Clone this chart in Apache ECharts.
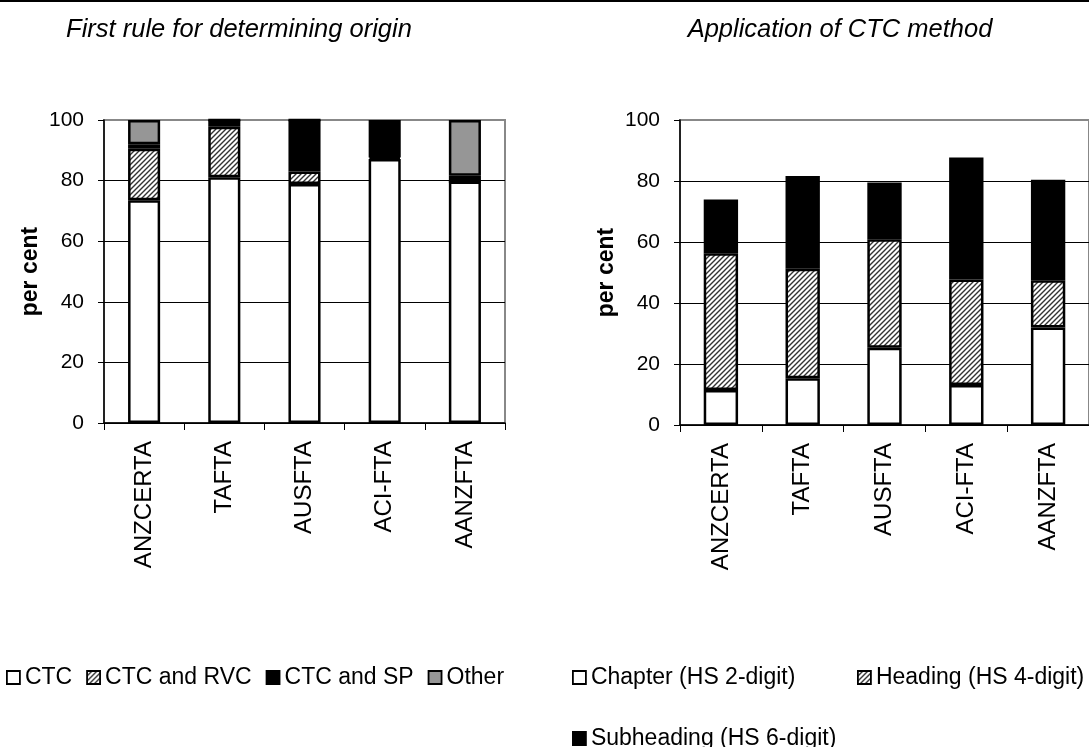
<!DOCTYPE html>
<html><head><meta charset="utf-8">
<script src="https://cdn.jsdelivr.net/npm/echarts@6/dist/echarts.min.js"></script>
<style>html,body{margin:0;padding:0;background:#fff}#c{width:1089px;height:747px}</style>
</head><body><div id="c"></div>
<script>
const categories = ['ANZCERTA', 'TAFTA', 'AUSFTA', 'ACI-FTA', 'AANZFTA'];
// Left panel: first rule for determining origin (per cent)
const ctc      = [73.5, 81.1, 78.9, 87.1, 79.7];
const ctcRvc   = [17.0, 16.7, 4.1, 0.5, 0];
const ctcSp    = [1.5, 2.2, 17.0, 11.4, 1.9];
const other    = [8.0, 0, 0, 1.0, 18.4];
// Right panel: application of CTC method (per cent)
const chapter    = [11.5, 15.3, 25.3, 13.1, 32.0];
const heading    = [44.8, 35.9, 35.6, 34.6, 15.5];
const subheading = [17.6, 30.4, 18.6, 40.0, 32.9];
const yTicks = [0, 20, 40, 60, 80, 100];

const FONT = 'Liberation Sans';
function hatch() {
  const s = 5;
  const c = document.createElement('canvas');
  c.width = s; c.height = s;
  const g = c.getContext('2d');
  g.fillStyle = '#fff'; g.fillRect(0, 0, s, s);
  g.strokeStyle = '#333'; g.lineWidth = 1.4;
  g.beginPath();
  g.moveTo(-1, s + 1); g.lineTo(s + 1, -1);
  g.moveTo(-1, 1); g.lineTo(1, -1);
  g.moveTo(s - 1, s + 1); g.lineTo(s + 1, s - 1);
  g.stroke();
  return c;
}
const hatchFill = { image: hatch(), repeat: 'repeat' };

function yAxis(gridIndex) {
  return {
    type: 'value', gridIndex, min: yTicks[0], max: yTicks[yTicks.length - 1], interval: 20,
    name: 'per cent', nameLocation: 'middle', nameRotate: 90, nameGap: 62,
    nameTextStyle: { fontFamily: FONT, fontSize: 23, fontWeight: 'bold', color: '#000' },
    axisLine: { show: true, lineStyle: { color: '#000', width: 1.5 } },
    axisTick: { show: true, length: 6, lineStyle: { color: '#000', width: 1 } },
    axisLabel: { fontFamily: FONT, fontSize: 21, color: '#000', margin: 20 },
    splitLine: { show: true, lineStyle: { color: ['#000', '#000', '#000', '#000', '#000', '#888'], width: 1 } }
  };
}
function xAxis(gridIndex) {
  return {
    type: 'category', gridIndex, data: categories,
    axisLine: { show: true, lineStyle: { color: '#000', width: 1.5 } },
    axisTick: { show: true, length: 7, interval: 0, lineStyle: { color: '#000', width: 1 } },
    axisLabel: { fontFamily: FONT, fontSize: 24, color: '#000', rotate: 90, margin: 18, interval: 0 }
  };
}
function bar(name, data, color, xi, bw) {
  return {
    type: 'bar', name, data, stack: 's' + xi, xAxisIndex: xi, yAxisIndex: xi,
    barWidth: bw, animation: false,
    itemStyle: { color, borderColor: '#000', borderWidth: 2.5 }
  };
}
const legendBase = {
  orient: 'horizontal', icon: 'rect', itemWidth: 13, itemHeight: 13, itemGap: 14,
  textStyle: { fontFamily: FONT, fontSize: 23, color: '#000' },
  itemStyle: { borderWidth: 1.8, borderColor: '#000' }, selectedMode: false
};
const titleStyle = { fontFamily: FONT, fontSize: 25.5, fontStyle: 'italic', fontWeight: 'normal', color: '#000' };

const chart = echarts.init(document.getElementById('c'), null, { renderer: 'canvas' });
chart.setOption({
  backgroundColor: '#fff',
  animation: false,
  graphic: [{ type: 'rect', left: 0, top: 0, shape: { width: 1089, height: 2 }, style: { fill: '#000' } }],
  title: [
    { text: 'First rule for determining origin', left: 234, top: 12, textAlign: 'center', textStyle: titleStyle },
    { text: 'Application of CTC method', left: 835, top: 12, textAlign: 'center', textStyle: titleStyle }
  ],
  grid: [
    { left: 104, top: 120, width: 401, height: 303, show: true, borderColor: '#888', borderWidth: 2, backgroundColor: 'transparent' },
    { left: 680, top: 120, width: 417, height: 305, show: true, borderColor: '#888', borderWidth: 2, backgroundColor: 'transparent' }
  ],
  xAxis: [xAxis(0), xAxis(1)],
  yAxis: [yAxis(0), yAxis(1)],
  legend: [
    Object.assign({}, legendBase, { left: 1, top: 661, data: ['CTC', 'CTC and RVC', 'CTC and SP', 'Other'] }),
    Object.assign({}, legendBase, { left: 567, top: 661, data: ['Chapter (HS 2-digit)'] }),
    Object.assign({}, legendBase, { left: 852, top: 661, data: ['Heading (HS 4-digit)'] }),
    Object.assign({}, legendBase, { left: 567, top: 722, data: ['Subheading (HS 6-digit)'] })
  ],
  series: [
    bar('CTC', ctc, '#fff', 0, '40%'),
    bar('CTC and RVC', ctcRvc, hatchFill, 0, '40%'),
    bar('CTC and SP', ctcSp, '#000', 0, '40%'),
    bar('Other', other, '#969696', 0, '40%'),
    bar('Chapter (HS 2-digit)', chapter, '#fff', 1, '42%'),
    bar('Heading (HS 4-digit)', heading, hatchFill, 1, '42%'),
    bar('Subheading (HS 6-digit)', subheading, '#000', 1, '42%')
  ]
});
</script></body></html>
